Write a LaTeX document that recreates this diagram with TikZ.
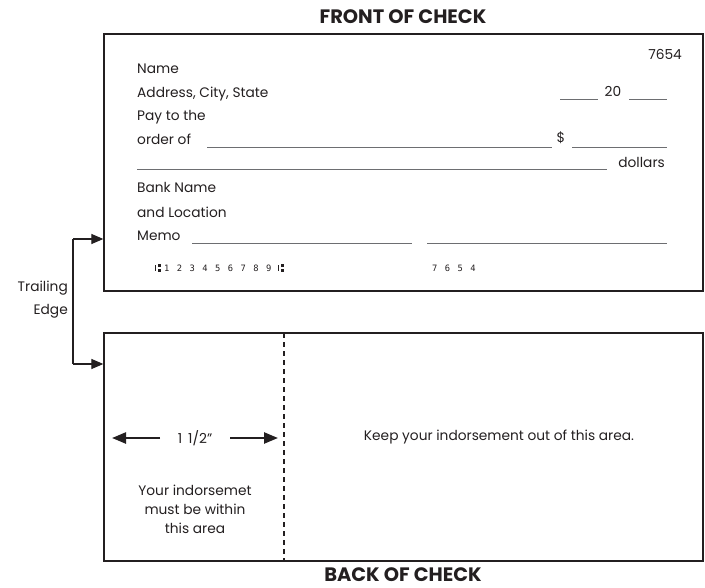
\documentclass[tikz,border=0pt]{standalone}
\usepackage{fontspec}
\setmainfont{Poppins}
\newfontfamily\micrfont{DejaVu Sans Mono}
\usetikzlibrary{arrows.meta}
\definecolor{ink}{HTML}{231F20}
\definecolor{rulegray}{HTML}{6D6E71}
\tikzset{
  txt/.style={inner sep=0pt, text=ink, font=\fontsize{13.8}{19}\selectfont},
  ttl/.style={inner sep=0pt, text depth=0pt, text=ink, font=\fontsize{19.5}{21}\selectfont\bfseries},
  micr/.style={inner sep=0pt, text=ink, font=\fontsize{8.8}{10}\selectfont\micrfont\addfontfeature{LetterSpace=85}},
  blank/.style={draw=rulegray, line width=0.9bp},
  checkbox/.style={draw=ink, line width=1.3bp, inner sep=0pt},
  edgearrow/.style={draw=ink, line width=1.3bp, -{Triangle[length=12bp,width=10bp]}},
  bigarrow/.style={draw=ink, line width=2.4bp, -{Triangle[length=14bp,width=11bp]}},
  divider/.style={draw=ink, line width=1.3bp, dash pattern=on 5bp off 4bp},
  transit/.pic={
    \fill[ink] (0,-3) rectangle (1.4,3);
    \fill[ink] (3,-4) rectangle (6,-1);
    \fill[ink] (3,0.5) rectangle (6,3.5);
  }
}
\begin{document}
\begin{tikzpicture}[x=1bp,y=-1bp]
\useasboundingbox (0,0) rectangle (705,588);
% boxes
\node[checkbox, minimum width=599bp, minimum height=257bp] (front) at (403.5,162.5) {};
\node[checkbox, minimum width=599bp, minimum height=228bp] (back) at (403.5,447) {};
% titles
\node[ttl, anchor=base] (fronttitle) at (403,24) {FRONT OF CHECK};
\node[ttl, anchor=base] (backtitle) at (403,581) {BACK OF CHECK};
% front texts
\node[txt, anchor=base east] (num) at (682,60) {7654};
\node[txt, anchor=base west] (name) at (137,74) {Name};
\node[txt, anchor=base west] (addr) at (137,97.5) {Address, City, State};
\node[txt, anchor=base west] (pay) at (137,121) {Pay to the};
\node[txt, anchor=base west] (order) at (137,145) {order of};
\node[txt, anchor=base west] (bank) at (137,193) {Bank Name};
\node[txt, anchor=base west] (loc) at (137,217) {and Location};
\node[txt, anchor=base west] (memo) at (137,240) {Memo};
\node[txt, anchor=base] (twenty) at (613,97) {20};
\node[txt, anchor=base] (dollar) at (561,143) {\$};
\node[txt, anchor=base east] (dollars) at (665,168) {dollars};
% MICR line
\pic at (155,268) {transit};
\node[micr, anchor=west] (routing) at (164,268) {123456789};
\pic at (278,268) {transit};
\node[micr, anchor=west] (checknum) at (432,268) {7654};
% blanks
\coordinate (b1a) at (560,99);  \coordinate (b1b) at (598,99);
\coordinate (b2a) at (629,99);  \coordinate (b2b) at (667,99);
\coordinate (b3a) at (207,147); \coordinate (b3b) at (552,147);
\coordinate (b4a) at (572,147); \coordinate (b4b) at (667,147);
\coordinate (b5a) at (137,169); \coordinate (b5b) at (607,169);
\coordinate (b6a) at (192,243); \coordinate (b6b) at (412,243);
\coordinate (b7a) at (427,243); \coordinate (b7b) at (667,243);
\foreach \i in {1,...,7} {\draw[blank] (b\i a) -- (b\i b);}
% trailing edge
\node[txt, anchor=base east] (trail) at (68,291) {Trailing};
\node[txt, anchor=base east] (edge) at (68,314) {Edge};
\coordinate (j1) at (73,239);
\coordinate (j2) at (73,364);
\draw[draw=ink, line width=1.3bp] (j1) -- (j2);
\draw[edgearrow] (j1) -- (j1 -| front.west);
\draw[edgearrow] (j2) -- (j2 -| back.west);
% back
\coordinate (d1) at (284,333);
\coordinate (d2) at (284,561);
\draw[divider] (d1) -- (d2);
\node[txt] (half) at (195,438) {1\hspace{6bp}1/2”};
\coordinate (la) at (160,438); \coordinate (lb) at (112,438);
\coordinate (ra) at (230,438); \coordinate (rb) at (278,438);
\draw[bigarrow] (la) -- (lb);
\draw[bigarrow] (ra) -- (rb);
\node[txt, align=center, anchor=base] (within) at (195,533) {Your indorsemet\\must be within\\this area};
\node[txt] (keep) at (499,437) {Keep your indorsement out of this area.};
\end{tikzpicture}
\end{document}
